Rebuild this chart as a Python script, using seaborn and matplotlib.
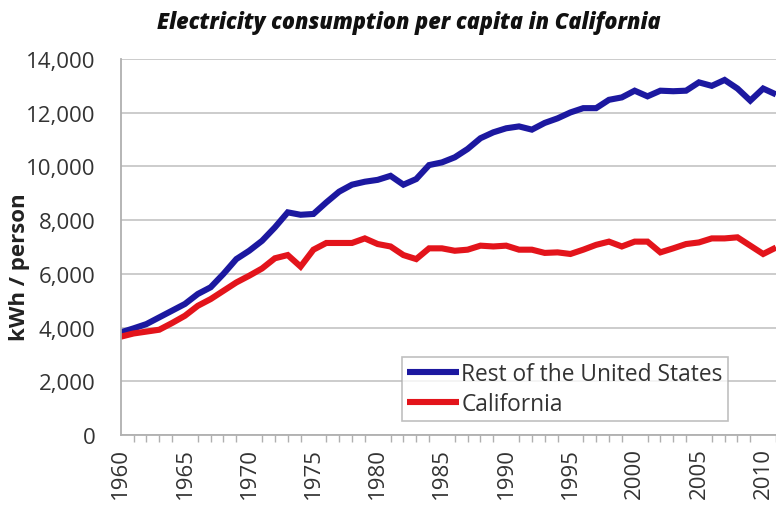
import numpy as np
import pandas as pd
import matplotlib
matplotlib.use("Agg")
import matplotlib.pyplot as plt
import seaborn as sns

years = list(range(1960, 2012))
rest_us = [3820, 3970, 4130, 4380, 4630, 4880, 5250, 5500, 6000, 6550,
           6860, 7230, 7730, 8290, 8200, 8230, 8660, 9060, 9320, 9430,
           9500, 9650, 9320, 9530, 10050, 10150, 10340, 10650, 11050, 11270,
           11420, 11490, 11370, 11620, 11790, 12010, 12170, 12170, 12480, 12570,
           12820, 12610, 12820, 12800, 12820, 13130, 13000, 13220, 12900, 12450,
           12900, 12680]
california = [3660, 3780, 3850, 3920, 4170, 4440, 4810, 5060, 5370, 5680,
              5930, 6200, 6580, 6700, 6270, 6900, 7150, 7150, 7150, 7320,
              7110, 7020, 6700, 6550, 6950, 6950, 6860, 6900, 7050, 7020,
              7050, 6900, 6900, 6780, 6800, 6740, 6900, 7080, 7200, 7020,
              7200, 7200, 6800, 6950, 7110, 7170, 7320, 7320, 7360, 7050,
              6740, 6980]
series_names = ["Rest of the United States", "California"]
title = "Electricity consumption per capita in California"
ylabel = "kWh / person"
yticks = [0, 2000, 4000, 6000, 8000, 10000, 12000, 14000]
xtick_years = list(range(1960, 2011, 5))

df = pd.DataFrame({
    "Year": years * 2,
    "Value": rest_us + california,
    "Series": [series_names[0]] * len(years) + [series_names[1]] * len(years),
})

sns.set_theme(style="white")
plt.rcParams["font.family"] = ["Open Sans", "DejaVu Sans"]

fig = plt.figure(figsize=(7.76, 5.06), dpi=100)
x0 = 120.7
ax = fig.add_axes([x0 / 776, 70 / 506, 1 - x0 / 776, 376 / 506])

palette = {series_names[0]: "#1c18a0", series_names[1]: "#e3141b"}
sns.lineplot(data=df, x="Year", y="Value", hue="Series", palette=palette,
             linewidth=4.4, ax=ax, solid_joinstyle="miter", solid_capstyle="butt")

ax.set_xlim(1960, 1960 + (776 - x0) / 12.85)
ax.set_ylim(0, 14000)
ax.set_yticks(yticks)
ax.set_yticklabels([f"{v:,}" for v in yticks], fontsize=16, color="#333333")
ax.yaxis.grid(True, color="#c8c8c8", linewidth=1.3)
ax.set_axisbelow(True)

ax.set_xticks(xtick_years)
ax.set_xticklabels([str(y) for y in xtick_years], rotation=90, fontsize=16,
                   color="#333333")
ax.set_xticks(years, minor=True)
ax.tick_params(axis="x", which="major", length=0, pad=9)
ax.tick_params(axis="x", which="minor", length=5, width=1, color="#b0b0b0",
               direction="out", bottom=True)
ax.tick_params(axis="y", length=0, pad=18)

for side in ["top", "right"]:
    ax.spines[side].set_visible(False)
for side in ["left", "bottom"]:
    ax.spines[side].set_color("#b0b0b0")
    ax.spines[side].set_linewidth(1.3)

ax.set_xlabel("")
ax.set_ylabel(ylabel, fontsize=16, fontweight="bold", color="#222222")
ax.yaxis.set_label_coords((20 - x0) / (776 - x0), (436 - 267) / 376)
ax.yaxis.label.set_va("center")

leg = ax.legend(loc="upper left",
                bbox_to_anchor=((401.5 - x0) / (776 - x0), (436 - 357.5) / 376),
                frameon=True, fancybox=False, fontsize=16.4, handlelength=2.3,
                handletextpad=0.1, borderpad=0.22, labelspacing=0.3,
                borderaxespad=0, edgecolor="#b0b0b0")
leg.get_frame().set_linewidth(1.2)
for t in leg.get_texts():
    t.set_color("#333333")
for l in leg.get_lines():
    l.set_linewidth(4.4)

fig.text(408.5 / 776, 1 - 29 / 506, title, ha="center", va="baseline", fontsize=15.6,
         fontweight=800, fontstyle="italic", family=["Open Sans", "DejaVu Sans"],
         color="#111111")

fig.savefig("out.png", dpi=100)
